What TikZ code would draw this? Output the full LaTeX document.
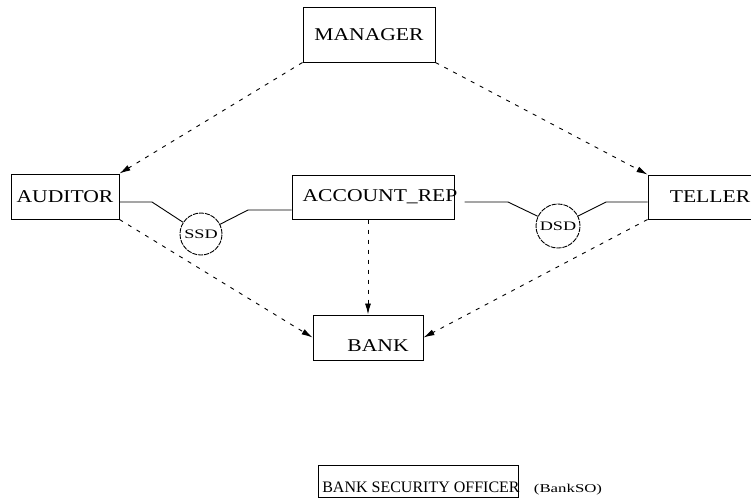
\documentclass[tikz,border=0pt]{standalone}
\usepackage{fontspec}
\setmainfont{Liberation Serif}[FakeStretch=1.2]
\newfontfamily\plainserif{Liberation Serif}
\newfontfamily\widesmall{Liberation Serif}[FakeStretch=1.4]
\usetikzlibrary{arrows.meta,calc}
\begin{document}
\begin{tikzpicture}[x=1pt,y=-1pt,
  box/.style={draw, line width=1pt, inner sep=0pt, font=\fontsize{18}{20}\selectfont},
  lbl/.style={inner sep=0pt, font=\fontsize{18}{20}\selectfont},
  sod/.style={draw, circle, line width=0.9pt, dash pattern=on 5pt off 1pt, inner sep=0pt, font=\widesmall\fontsize{13}{14}\selectfont},
  link/.style={line width=0.9pt},
  inh/.style={line width=0.9pt, dash pattern=on 4pt off 6pt, -{Latex[length=11pt,width=6pt]}}]
\useasboundingbox (0,0) rectangle (751,499);
\clip (0,0) rectangle (751,499);
% role boxes
\node[box, minimum width=132pt, minimum height=55pt] (mgr) at (369,34.5) {MANAGER};
\node[box, minimum width=108pt, minimum height=45pt] (aud) at (65,196.5) {AUDITOR};
\node[box, minimum width=162pt, minimum height=44pt] (acc) at (373,197) {};
\node[lbl] (acct) at (380,197) {ACCOUNT\_REP};
\node[box, minimum width=124pt, minimum height=44pt] (tel) at (710,197) {TELLER};
\node[box, minimum width=110pt, minimum height=45pt] (bank) at (368,337.5) {};
\node[lbl] (bankt) at (378,346) {BANK};
\node[box, minimum width=200pt, minimum height=32pt] (bso) at (418,481) {};
\node[inner sep=0pt, font=\plainserif\fontsize{16}{18}\selectfont, anchor=base] (bsot) at (421,492) {BANK SECURITY OFFICER};
\node[inner sep=0pt, font=\widesmall\fontsize{12}{14}\selectfont, anchor=base] (bsoname) at (568,492) {(BankSO)};
% constraint circles
\node[sod, minimum size=42pt] (ssd) at (201,234) {SSD};
\node[sod, minimum size=44pt] (dsd) at (558,226) {DSD};
% constraint links
\coordinate (a1) at (152,202);
\coordinate (a2) at (248,210);
\coordinate (d1) at (508,202);
\coordinate (d2) at (606,202);
\draw[link] ($(aud.east)+(0,5.5)$) -- (a1) -- (ssd);
\draw[link] (ssd) -- (a2) -- (a2 -| acc.west);
\draw[link] ($(acc.east)+(10,5)$) -- (d1) -- (dsd);
\draw[link] (dsd) -- (d2) -- (d2 -| tel.west);
% hierarchy arrows
\draw[inh] (mgr.south west) -- (aud.north east);
\draw[inh] (mgr.south east) -- (tel.north west);
\draw[inh] (aud.south east) -- (bank.west);
\draw[inh] (tel.south west) -- (bank.east);
\draw[inh] (acc.south -| bank.north) -- (bank.north);
\end{tikzpicture}
\end{document}
